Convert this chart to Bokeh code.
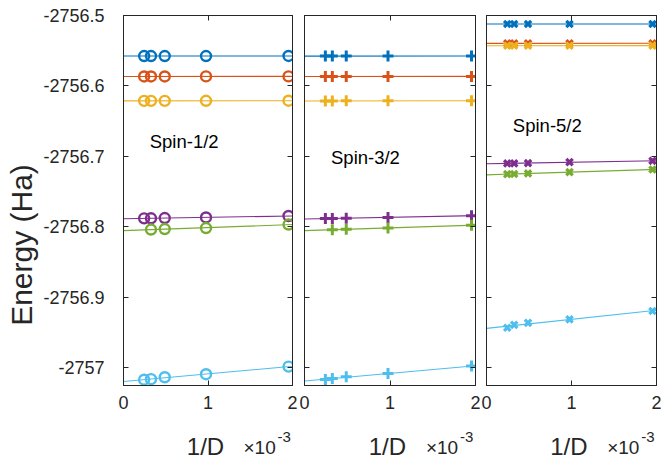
import numpy as np
from bokeh.plotting import figure
from bokeh.layouts import row, column
from bokeh.models import Range1d, FixedTicker, LinearAxis, CustomJSTickFormatter
from bokeh.embed import file_html
from bokeh.resources import INLINE
from bokeh.core.properties import value

# ---------------- data ----------------
D = [4096, 3072, 2048, 1024, 512]          # bond dimension; x = 1/D (x10^-3)
x_ticks = [0, 1, 2]
y_ticks = [-2757.0, -2756.9, -2756.8, -2756.7, -2756.6, -2756.5]

colors = ["#0072BD", "#D95319", "#EDB120", "#7E2F8E", "#77AC30", "#4DBEEE"]

# Spin-1/2
s12_blue   = [-2756.5575, -2756.5575, -2756.5575, -2756.5575, -2756.5574]
s12_orange = [-2756.5865, -2756.5865, -2756.5865, -2756.5864, -2756.5864]
s12_yellow = [-2756.6211, -2756.6211, -2756.6211, -2756.6210, -2756.6209]
s12_purple = [-2756.7878, -2756.7877, -2756.7874, -2756.7866, -2756.7845]
s12_green  = [np.nan, -2756.8037, -2756.8030, -2756.8016, -2756.7966]
s12_cyan   = [-2757.0168, -2757.0160, -2757.0133, -2757.0090, -2756.9982]

# Spin-3/2
s32_blue   = [-2756.5576, -2756.5576, -2756.5575, -2756.5575, -2756.5575]
s32_orange = [-2756.5866, -2756.5866, -2756.5865, -2756.5865, -2756.5864]
s32_yellow = [-2756.6212, -2756.6212, -2756.6211, -2756.6211, -2756.6209]
s32_purple = [-2756.7880, -2756.7879, -2756.7876, -2756.7866, -2756.7840]
s32_green  = [np.nan, -2756.8040, -2756.8033, -2756.8016, -2756.7976]
s32_cyan   = [-2757.0165, -2757.0150, -2757.0125, -2757.0080, -2756.9975]

# Spin-5/2
s52_blue   = [-2756.5121, -2756.5121, -2756.5121, -2756.5121, -2756.5121]
s52_orange = [-2756.5395, -2756.5395, -2756.5395, -2756.5395, -2756.5394]
s52_yellow = [-2756.5430, -2756.5430, -2756.5429, -2756.5429, -2756.5428]
s52_purple = [-2756.7099, -2756.7098, -2756.7094, -2756.7081, -2756.7062]
s52_green  = [-2756.7251, -2756.7249, -2756.7241, -2756.7223, -2756.7185]
s52_cyan   = [-2756.9430, -2756.9390, -2756.9362, -2756.9311, -2756.9193]

panels = [
    ("Spin-1/2", [s12_blue, s12_orange, s12_yellow, s12_purple, s12_green, s12_cyan]),
    ("Spin-3/2", [s32_blue, s32_orange, s32_yellow, s32_purple, s32_green, s32_cyan]),
    ("Spin-5/2", [s52_blue, s52_orange, s52_yellow, s52_purple, s52_green, s52_cyan]),
]

# ---------------- styling ----------------
FONT = "Liberation Sans"
AX = "#262626"
x = 1000.0 / np.array(D, dtype=float)
y_range = Range1d(-2757.025, -2756.5)

YLAB_W = 40
TOP_H = 419
BOT_H = 41
label_pos = [(0.31, -2756.679), (0.31, -2756.702), (0.31, -2756.656)]
markers = [("circle", 10, 2.4), ("cross", 11, 3.0), ("x", 9, 3.2)]
geom = [  # width, min_border_left, min_border_right
    (258, 82, 6),
    (182, 6, 5),
    (181, 6, 5),
]

empty = CustomJSTickFormatter(code="return ''")
yfmt = CustomJSTickFormatter(
    code="const s = tick.toFixed(1); return s.endsWith('.0') ? s.slice(0, -2) : s;")


def style_axis(ax, labels=True):
    ax.axis_line_color = AX
    ax.major_tick_line_color = AX
    ax.minor_tick_line_color = None
    ax.major_tick_in = 5
    ax.major_tick_out = 0
    ax.major_label_text_font = FONT
    ax.major_label_text_color = AX
    if labels:
        ax.major_label_text_font_size = "18px"
    else:
        ax.major_label_text_font_size = "1px"
        ax.major_label_standoff = 0


def blank_fig(w, h, xr, yr, bl=0, br=0):
    f = figure(width=w, height=h, x_range=xr, y_range=yr,
               output_backend="svg", toolbar_location=None,
               x_axis_location=None, y_axis_location=None,
               min_border=0, min_border_left=bl, min_border_right=br,
               min_border_top=0, min_border_bottom=0)
    f.grid.visible = False
    f.outline_line_color = None
    return f


# y-axis label column
ylab = blank_fig(YLAB_W, TOP_H + BOT_H, Range1d(0, YLAB_W), Range1d(0, TOP_H + BOT_H))
ylab.text(x=[21], y=[TOP_H + BOT_H - 244.5], text=["Energy (Ha)"],
          text_font=value(FONT), text_font_size="30px", angle=np.pi / 2,
          text_align="center", text_baseline="middle", text_color=AX)

cols = [ylab]
for i, (name, series) in enumerate(panels):
    w, bl, br = geom[i]
    xr = Range1d(0, 2)
    p = figure(width=w, height=TOP_H, x_range=xr, y_range=y_range,
               output_backend="svg", toolbar_location=None,
               min_border=0, min_border_left=bl, min_border_right=br,
               min_border_top=15, min_border_bottom=TOP_H - 385)
    p.grid.visible = False
    p.outline_line_color = AX
    p.outline_line_alpha = 1.0

    xa = p.xaxis[0]
    xa.ticker = FixedTicker(ticks=x_ticks)
    style_axis(xa)
    xa.major_label_standoff = 10

    ya = p.yaxis[0]
    ya.ticker = FixedTicker(ticks=y_ticks)
    if i == 0:
        style_axis(ya)
        ya.formatter = yfmt
        ya.major_label_standoff = 19
    else:
        ya.formatter = empty
        style_axis(ya, labels=False)

    # mirrored ticks (top / right)
    top = LinearAxis(ticker=FixedTicker(ticks=x_ticks), formatter=empty)
    style_axis(top, labels=False)
    p.add_layout(top, "above")
    right = LinearAxis(ticker=FixedTicker(ticks=y_ticks), formatter=empty)
    style_axis(right, labels=False)
    p.add_layout(right, "right")

    mk, ms, mlw = markers[i]
    xfit = np.array([0.0, 2.0])
    for c, yv in zip(colors, series):
        yv = np.array(yv, dtype=float)
        ok = ~np.isnan(yv)
        k, b = np.polyfit(x[ok], yv[ok], 1)
        p.line(xfit, k * xfit + b, line_color=c, line_width=1.1)
        p.scatter(x[ok], yv[ok], marker=mk, size=ms, line_color=c,
                  fill_color=None, line_width=mlw)

    lx, ly = label_pos[i]
    p.text(x=[lx], y=[ly], text=[name], text_font=value(FONT),
           text_font_size="18.5px", text_baseline="middle", text_align="left",
           text_color="black")

    # x-axis title strip: "1/D  ×10^-3"
    g = blank_fig(w, BOT_H, xr, Range1d(0, BOT_H), bl, br)
    g.text(x=[0.97], y=[14], text=["1/D"], text_font=value(FONT),
           text_font_size="24px", text_align="center",
           text_baseline="alphabetic", text_color=AX)
    g.text(x=[1.42], y=[13], text=["×10"], text_font=value(FONT),
           text_font_size="19px", text_align="left",
           text_baseline="alphabetic", text_color=AX)
    g.text(x=[1.42], y=[24], x_offset=34, text=["-3"], text_font=value(FONT),
           text_font_size="15px", text_align="left",
           text_baseline="alphabetic", text_color=AX)

    cols.append(column(p, g))

layout = row(*cols)
open("out.html", "w").write(file_html(layout, INLINE))
